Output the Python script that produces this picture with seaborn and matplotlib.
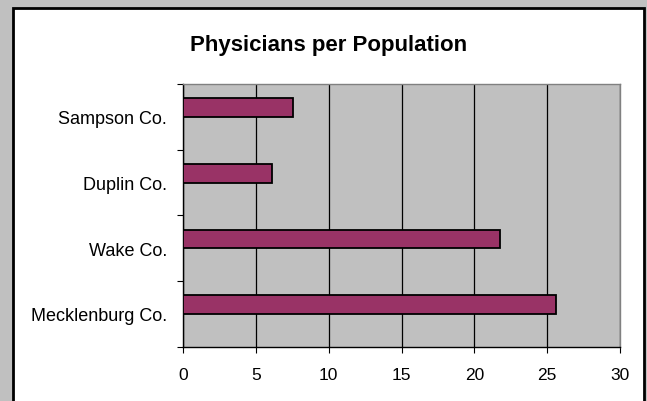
import matplotlib
matplotlib.use("Agg")
import matplotlib.pyplot as plt
import seaborn as sns
import pandas as pd
from matplotlib.patches import Rectangle
from matplotlib.ticker import FixedLocator

# ---- data ----
counties = ["Sampson Co.", "Duplin Co.", "Wake Co.", "Mecklenburg Co."]
physicians = [7.55, 6.1, 21.75, 25.6]
empty_series = [None, None, None, None]   # empty second series (Excel-style offset)
x_ticks = [0, 5, 10, 15, 20, 25, 30]
title = "Physicians per Population"

df = pd.DataFrame({
    "county": counties + counties,
    "value": physicians + empty_series,
    "series": ["A"] * len(counties) + ["B"] * len(counties),
})
df["value"] = df["value"].astype(float)

plt.rcParams["font.family"] = ["Liberation Sans", "DejaVu Sans"]

W, H = 647, 402
fig = plt.figure(figsize=(W / 100, H / 100), dpi=100, facecolor="#C0C0C0")
fig.patches.append(Rectangle((13 / W, -0.1), (644 - 13) / W, 1 - 9 / H + 0.1,
                             transform=fig.transFigure, facecolor="white",
                             edgecolor="black", linewidth=2, zorder=-5))

left, right, top, bottom = 183, 620, 85, 347.7
ax = fig.add_axes([left / W, 1 - bottom / H, (right - left) / W, (bottom - top) / H])
ax.set_zorder(1)
ax.set_facecolor("#C0C0C0")

sns.barplot(data=df, y="county", x="value", hue="series", hue_order=["A", "B"],
            order=counties, orient="h", width=0.56, dodge=True, saturation=1,
            palette=["#993366", "#993366"], edgecolor="black", linewidth=1.3,
            errorbar=None, legend=False, ax=ax, zorder=3)

ax.set_xlim(0, 30)
ax.set_ylim(len(counties) - 0.5, -0.5)
ax.set_xticks(x_ticks)
ax.set_xticklabels([str(t) for t in x_ticks])
ax.yaxis.set_minor_locator(FixedLocator([i - 0.5 for i in range(len(counties) + 1)]))

ax.set_axisbelow(True)
ax.xaxis.grid(True, color="black", linewidth=0.9)
ax.yaxis.grid(False)

for s in ["left", "bottom"]:
    ax.spines[s].set_color("black")
    ax.spines[s].set_linewidth(1)
for s in ["top", "right"]:
    ax.spines[s].set_color("#808080")
    ax.spines[s].set_linewidth(1)

ax.tick_params(axis="x", which="major", bottom=True, direction="out", length=4.3,
               width=0.8, color="black", labelsize=12.5, pad=10.5, labelcolor="black")
ax.tick_params(axis="y", which="major", left=True, length=0, pad=11.5,
               labelsize=13, labelcolor="black")
ax.tick_params(axis="y", which="minor", left=True, direction="out", length=4.3,
               width=0.8, color="black")
ax.set_xlabel("")
ax.set_ylabel("")

fig.text(329 / W, 1 - 45 / H, title, ha="center", va="center",
         fontsize=16, fontweight="bold", zorder=5)

fig.savefig("out.png", dpi=100, facecolor=fig.get_facecolor())
